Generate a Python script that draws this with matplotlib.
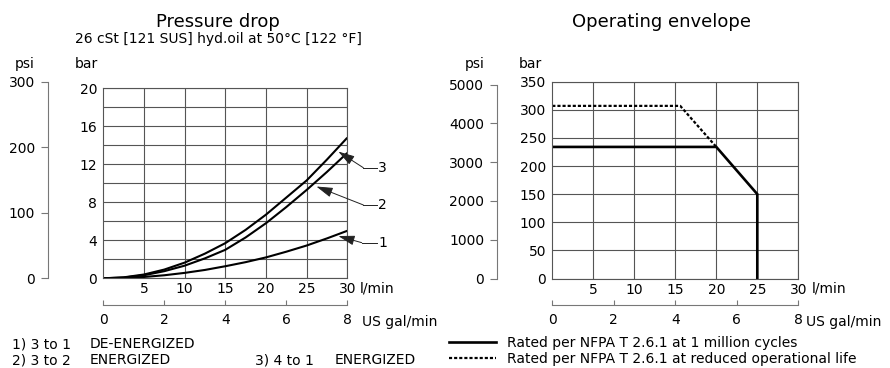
import numpy as np
import matplotlib.pyplot as plt

plt.rcParams['font.family'] = ['DejaVu Sans']
plt.rcParams['font.size'] = 10

# Pressure drop curves (bar) vs flow (l/min)
flow = [0, 2.5, 5, 7.5, 10, 12.5, 15, 17.5, 20, 22.5, 25, 27.5, 30]
dp_1 = [0, 0.04, 0.14, 0.32, 0.57, 0.88, 1.27, 1.7, 2.2, 2.8, 3.45, 4.2, 5.0]
dp_2 = [0, 0.08, 0.32, 0.75, 1.33, 2.1, 3.0, 4.3, 5.8, 7.5, 9.3, 11.2, 13.2]
dp_3 = [0, 0.1, 0.4, 0.92, 1.65, 2.6, 3.7, 5.1, 6.7, 8.5, 10.3, 12.5, 14.8]

# Operating envelope (bar) vs flow (l/min)
env_flow = [0, 20, 25, 25]
env_bar = [234, 234, 150, 0]
red_flow = [0, 15.6, 20]
red_bar = [307, 307, 234]

lmin_ticks = [5, 10, 15, 20, 25, 30]
gal_ticks = [0, 2, 4, 6, 8]
psi_left = [0, 100, 200, 300]
psi_right = [0, 1000, 2000, 3000, 4000, 5000]
BAR2PSI = 14.5038

W, H = 890, 368
def fx(x): return x / W
def fy(y): return 1 - y / H

grid_c = '#555555'
ax_c = '#777777'
FS = 10

fig = plt.figure(figsize=(8.9, 3.68), dpi=100)


def style_main(ax, gal_loc):
    for s in ax.spines.values():
        s.set_color(grid_c)
        s.set_linewidth(0.8)
    ax.grid(True, which='both', color=grid_c, lw=0.8)
    ax.set_axisbelow(True)
    ax.set_xlim(0, 30)
    ax.set_xticks(lmin_ticks)
    ax.tick_params(which='both', length=0, labelsize=FS)
    ax.tick_params(axis='x', pad=3)
    ax.tick_params(axis='y', pad=4.5)
    sec = ax.secondary_xaxis(gal_loc, functions=(lambda v: v * 8 / 30, lambda v: v * 30 / 8))
    sec.set_xticks(gal_ticks)
    sec.tick_params(direction='in', length=3.6, width=0.8, color=ax_c, pad=6, labelsize=FS)
    sec.spines['bottom'].set_color(ax_c)
    sec.spines['bottom'].set_linewidth(0.8)


def psi_axis(rect, ticks):
    pa = fig.add_axes(rect)
    pa.set_ylim(0, ticks[-1])
    pa.set_yticks(ticks)
    pa.set_xticks([])
    for k in ['top', 'right', 'bottom']:
        pa.spines[k].set_visible(False)
    pa.spines['left'].set_color(ax_c)
    pa.spines['left'].set_linewidth(0.8)
    pa.tick_params(axis='y', length=5, width=0.8, color=ax_c, pad=4.5, labelsize=FS)
    pa.patch.set_visible(False)
    return pa


# ---------------- Pressure drop ----------------
ax1 = fig.add_axes([fx(103.3), fy(278.3), fx(244), 190 / H])
style_main(ax1, -0.1405)
ax1.set_ylim(0, 20)
ax1.set_yticks([0, 4, 8, 12, 16, 20])
ax1.set_yticks([2, 6, 10, 14, 18], minor=True)
for c in [dp_1, dp_2, dp_3]:
    ax1.plot(flow, c, color='black', lw=1.5, solid_capstyle='butt')

h1 = 190 / H
psi_axis([fx(48.3), fy(278.3), 0.0001, h1 * (300 / BAR2PSI) / 20], psi_left)

# leader arrows
arrows = {'3': (28.9, 11.64, 31.97, dp_3, -0.45),
          '2': (26.2, 7.72, 31.97, dp_2, -0.55),
          '1': (28.9, 3.75, 31.77, dp_1, -0.2)}
for name, (tx, ly, ex, c, off) in arrows.items():
    ty = np.interp(tx, flow, c) + off
    ax1.annotate('', xy=(tx, ty), xytext=(ex, ly), annotation_clip=False,
                 arrowprops=dict(arrowstyle='-|>,head_length=1.0,head_width=0.3',
                                 color='#222222', lw=0.7, shrinkA=0, shrinkB=0))
    ax1.plot([ex, 33.6], [ly, ly], color='#222222', lw=0.7, clip_on=False)
    ax1.text(33.8, ly, name, va='center', ha='left', fontsize=FS)

fig.text(fx(218), fy(21.7), 'Pressure drop', ha='center', va='center', fontsize=13)
fig.text(fx(218), fy(39.5), '26 cSt [121 SUS] hyd.oil at 50°C [122 °F]', ha='center', va='center', fontsize=FS)
fig.text(fx(25), fy(64), 'psi', ha='center', va='center', fontsize=FS)
fig.text(fx(86), fy(64), 'bar', ha='center', va='center', fontsize=FS)
fig.text(fx(359.5), fy(288), 'l/min', ha='left', va='center', fontsize=FS)
fig.text(fx(361.5), fy(321.7), 'US gal/min', ha='left', va='center', fontsize=FS)

fig.text(fx(11.5), fy(344), '1) 3 to 1', ha='left', va='center', fontsize=FS)
fig.text(fx(90), fy(344), 'DE-ENERGIZED', ha='left', va='center', fontsize=FS)
fig.text(fx(11.5), fy(360.5), '2) 3 to 2', ha='left', va='center', fontsize=FS)
fig.text(fx(90), fy(360.5), 'ENERGIZED', ha='left', va='center', fontsize=FS)
fig.text(fx(255), fy(360.5), '3) 4 to 1', ha='left', va='center', fontsize=FS)
fig.text(fx(335), fy(360.5), 'ENERGIZED', ha='left', va='center', fontsize=FS)

# ---------------- Operating envelope ----------------
h2 = 196.8 / H
ax2 = fig.add_axes([fx(552.3), fy(278.5), fx(246), h2])
style_main(ax2, -0.1347)
ax2.set_ylim(0, 350)
ax2.set_yticks(np.arange(0, 351, 50))
l_solid, = ax2.plot(env_flow, env_bar, color='black', lw=1.9, solid_joinstyle='miter')
l_dash, = ax2.plot(red_flow, red_bar, color='black', lw=1.6, linestyle=(0, (1.4, 0.9)))

psi_axis([fx(497.3), fy(278.5), 0.0001, h2 * (5000 / BAR2PSI) / 350], psi_right)

fig.text(fx(661), fy(21.7), 'Operating envelope', ha='center', va='center', fontsize=13)
fig.text(fx(475), fy(64), 'psi', ha='center', va='center', fontsize=FS)
fig.text(fx(530), fy(64), 'bar', ha='center', va='center', fontsize=FS)
fig.text(fx(811.5), fy(288), 'l/min', ha='left', va='center', fontsize=FS)
fig.text(fx(806), fy(321.7), 'US gal/min', ha='left', va='center', fontsize=FS)

fig.legend([l_solid, l_dash],
           ['Rated per NFPA T 2.6.1 at 1 million cycles',
            'Rated per NFPA T 2.6.1 at reduced operational life'],
           loc='center left', bbox_to_anchor=(fx(449), fy(350.8)), frameon=False,
           fontsize=FS, handlelength=3.4, handletextpad=0.8, labelspacing=0.15,
           borderpad=0, borderaxespad=0)

fig.savefig('out.png', dpi=100)
